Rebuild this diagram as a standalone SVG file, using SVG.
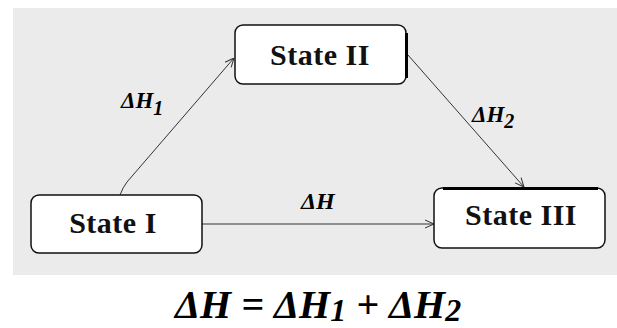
<svg xmlns="http://www.w3.org/2000/svg" width="617" height="328" viewBox="0 0 617 328">
<defs>
<style>
.box{fill:#fff;stroke:#111;stroke-width:1.5}
.lbl{font-family:"Liberation Serif","Times New Roman",serif;font-weight:bold;font-size:30px;fill:#111}
.math{font-family:"Liberation Serif","Times New Roman",serif;font-weight:bold;font-style:italic;fill:#000}
.edge{fill:none;stroke:#333;stroke-width:1}
.thick{stroke:#000;stroke-width:3}
</style>
<marker id="arr" viewBox="0 0 10 10" refX="10" refY="5" markerWidth="10" markerHeight="10" markerUnits="userSpaceOnUse" orient="auto">
<path d="M1,1 L10,5 L1,9" fill="none" stroke="#333" stroke-width="1"/>
</marker>
</defs>
<rect x="0" y="0" width="617" height="328" fill="#fff"/>
<rect x="13" y="8" width="604" height="267" fill="#ebebeb"/>
<g id="connectors">
<path class="edge" d="M120,195 Q123,187 127,182 L234,58" marker-end="url(#arr)"/>
<path class="edge" d="M408,55 L524,187" marker-end="url(#arr)"/>
<path class="edge" d="M202,224 L434,224" marker-end="url(#arr)"/>
<text class="math" x="121" y="108" font-size="23">ΔH<tspan font-size="20" dy="7">1</tspan></text>
<text class="math" x="472" y="122" font-size="23">ΔH<tspan font-size="20" dy="6">2</tspan></text>
<text class="math" x="301" y="209" font-size="24">ΔH</text>
</g>
<g id="state1">
<rect class="box" x="31" y="195" width="171" height="58" rx="8"/>
<text class="lbl" x="113" y="233" text-anchor="middle" letter-spacing="0.5">State I</text>
</g>
<g id="state2">
<rect class="box" x="235" y="25" width="171" height="59" rx="8"/>
<line class="thick" x1="406.5" y1="33" x2="406.5" y2="78"/>
<text class="lbl" x="320" y="65" text-anchor="middle" letter-spacing="0.5">State II</text>
</g>
<g id="state3">
<rect class="box" x="434" y="188" width="171" height="60" rx="8"/>
<line class="thick" x1="443" y1="188.5" x2="598" y2="188.5"/>
<text class="lbl" x="521" y="225" text-anchor="middle" letter-spacing="0.5">State III</text>
</g>
<text class="math" x="175" y="318" font-size="40">ΔH = ΔH<tspan font-size="32" dy="3">1</tspan><tspan dy="-3"> + ΔH</tspan><tspan font-size="32" dy="3">2</tspan></text>
</svg>
